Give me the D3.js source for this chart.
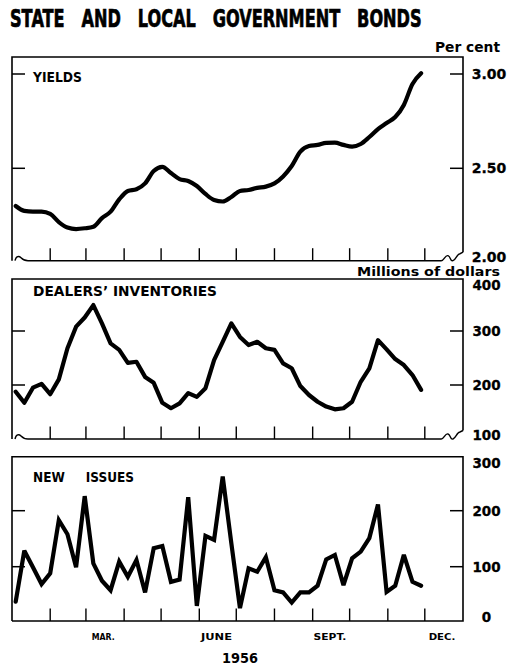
<!DOCTYPE html>
<html><head><meta charset="utf-8">
<script src="https://cdn.jsdelivr.net/npm/d3@7"></script>
<style>
html,body{margin:0;padding:0;background:#fff;}
svg{display:block;}
text{font-family:"DejaVu Sans",sans-serif;font-weight:bold;fill:#000;white-space:pre;}
</style>
</head><body><div id="chart"></div>
<script>
// ---------- data ----------
const weeks = ["1956-01-04","1956-01-11","1956-01-18","1956-01-25","1956-02-01","1956-02-08","1956-02-15","1956-02-22","1956-02-29",
  "1956-03-07","1956-03-14","1956-03-21","1956-03-28","1956-04-04","1956-04-11","1956-04-18","1956-04-25",
  "1956-05-02","1956-05-09","1956-05-16","1956-05-23","1956-05-30","1956-06-06","1956-06-13","1956-06-20","1956-06-27",
  "1956-07-04","1956-07-11","1956-07-18","1956-07-25","1956-08-01","1956-08-08","1956-08-15","1956-08-22","1956-08-29",
  "1956-09-05","1956-09-12","1956-09-19","1956-09-26","1956-10-03","1956-10-10","1956-10-17","1956-10-24","1956-10-31",
  "1956-11-07","1956-11-14","1956-11-21","1956-11-28"];
const yields = [2.30,2.274,2.27,2.27,2.258,2.215,2.186,2.178,2.182,2.19,2.236,2.27,2.335,2.38,2.389,2.42,2.486,
  2.508,2.475,2.443,2.433,2.406,2.364,2.332,2.324,2.348,2.38,2.385,2.396,2.403,2.42,2.457,2.512,2.588,2.618,
  2.624,2.635,2.636,2.624,2.615,2.629,2.666,2.708,2.74,2.772,2.836,2.947,3.004];
const inventories = [187.6,167,195,202,183,210.5,268,308,325,348,314,277,265,241,243,215,204,167,157,166,185,178,
  194,246,280,314,289,274,280,268,265,240,231,198,181.5,169,160,155,157,169,206,231,283,266,248,237,218.5,191];
const newIssues = [37.5,128.6,99,69,88,183,158,99,226,106,75,58,109,82,112,54,133,137,73,77,224,30,155,148,261,
  142,26,97,91,117,58,54,36,54,54,66,113,121,67,115,127,151,211,55,66,121,73,66];
const monthTicks = ["1956-02-01","1956-03-01","1956-04-01","1956-05-01","1956-06-01","1956-07-01","1956-08-01",
  "1956-09-01","1956-10-01","1956-11-01","1956-12-01"];
const monthLabels = ["MAR.","JUNE","SEPT.","DEC."];
const monthLabelDates = ["1956-03-15","1956-06-15","1956-09-15","1956-12-15"];
const yearLabel = "1956";
const yieldTicks = [2.5, 3.0];
const yieldLabelValues = [2.0, 2.5, 3.0];
const invTicks = [200, 300];
const invLabelValues = [100, 200, 300, 400];
const issueTicks = [100, 200];
const issueLabelValues = [0, 100, 200, 300];

// ---------- layout ----------
const W = 507, H = 665;
const parse = d3.utcParse("%Y-%m-%d");
const dates = weeks.map(parse);
const svg = d3.select("#chart").append("svg").attr("width", W).attr("height", H);
const x = d3.scaleUtc().domain([parse("1956-01-01"), parse("1957-01-01")]).range([12, 463]);
const L = 12, R = 463;

const panels = [
  {top:57, bottom:260.7, broken:true, label:"YIELDS", labelY:82, labelLen:49,
   y:d3.scaleLinear().domain([2.5,3.0]).range([168.3,74]), values:yields, curve:d3.curveMonotoneX,
   ticks:yieldTicks, labelVals:yieldLabelValues, fmt:(v)=>d3.format(".2f")(v), labelX:489, fs:14},
  {top:279, bottom:439, broken:true, label:"DEALERS\u2019 INVENTORIES", labelY:296, labelLen:184,
   y:d3.scaleLinear().domain([100,400]).range([439,277]), values:inventories, curve:d3.curveLinear,
   ticks:invTicks, labelVals:invLabelValues, fmt:d3.format("d"), labelX:486.5, fs:13.5},
  {top:456.7, bottom:621, broken:false, label:"NEW     ISSUES", labelY:482, labelLen:101,
   y:d3.scaleLinear().domain([0,300]).range([622.7,454.7]), values:newIssues, curve:d3.curveLinear,
   ticks:issueTicks, labelVals:issueLabelValues, fmt:d3.format("d"), labelX:486.5, fs:13.5}
];

// title (horizontally condensed via transform)
const title = svg.append("text").style("font-size","24px")
  .attr("stroke","#000").attr("stroke-width",0.7)
  .text("STATE   AND   LOCAL   GOVERNMENT   BONDS");
const natural = title.node().getComputedTextLength();
title.attr("transform", `translate(10,27) scale(${412/natural},1)`);

svg.append("text").attr("x",435).attr("y",51.7).style("font-size","13.5px")
  .attr("textLength",65).attr("lengthAdjust","spacingAndGlyphs").text("Per cent");
svg.append("text").attr("x",357).attr("y",275.5).style("font-size","13px")
  .attr("textLength",143).attr("lengthAdjust","spacingAndGlyphs").text("Millions of dollars");

panels.forEach((p, pi) => {
  const g = svg.append("g");
  const B = p.bottom, T = p.top;
  const frame = d3.path();
  frame.moveTo(L, B); frame.lineTo(L, T); frame.lineTo(R, T);
  frame.lineTo(R, p.broken ? B - 8.5 : B);
  if (!p.broken) frame.lineTo(L, B);
  g.append("path").attr("d", frame.toString()).attr("fill","none").attr("stroke","#000").attr("stroke-width",1.6);
  if (p.broken) {
    g.append("line").attr("x1", L+16).attr("x2", R-22).attr("y1", B).attr("y2", B)
      .attr("stroke","#000").attr("stroke-width",1.6);
    g.append("path")
      .attr("d", `M${L+3},${B} C${L+4},${B-5} ${L+7},${B-5} ${L+9},${B-3} C${L+11},${B-1} ${L+13},${B} ${L+16},${B}`)
      .attr("fill","none").attr("stroke","#000").attr("stroke-width",1.4);
    g.append("path")
      .attr("d", `M${R-22},${B} C${R-19},${B+0.5} ${R-18},${B-6} ${R-15},${B-5} C${R-12},${B-4} ${R-13},${B+1} ${R-10},${B} C${R-7},${B-1} ${R-6},${B-7} ${R-3},${B-7} L${R},${B-8.5}`)
      .attr("fill","none").attr("stroke","#000").attr("stroke-width",1.4);
  }
  // month ticks
  g.selectAll(".mt").data(monthTicks).join("line")
    .attr("x1", d=>x(parse(d))).attr("x2", d=>x(parse(d)))
    .attr("y1", B).attr("y2", B-12.5).attr("stroke","#000").attr("stroke-width",1.4);
  // value ticks both sides
  p.ticks.forEach(v => {
    const yy = p.y(v);
    g.append("line").attr("x1",L).attr("x2",L+13).attr("y1",yy).attr("y2",yy).attr("stroke","#000").attr("stroke-width",1.5);
    g.append("line").attr("x1",R-13).attr("x2",R).attr("y1",yy).attr("y2",yy).attr("stroke","#000").attr("stroke-width",1.5);
  });
  // value labels
  const dom = d3.extent(p.labelVals);
  p.labelVals.forEach(v => {
    let yy = p.y(v);
    if (v === dom[1] && pi > 0) yy += 8;
    if (v === dom[0]) yy -= (pi===1 ? 4 : 6);
    g.append("text").attr("x", p.labelX).attr("y", yy).attr("dy","0.36em")
      .attr("text-anchor","middle").style("font-size", p.fs+"px")
      .attr("stroke","#000").attr("stroke-width",0.3).text(p.fmt(v));
  });
  // series line
  const line = d3.line().x((d,i)=>x(dates[i])).y(d=>p.y(d)).curve(p.curve);
  g.append("path").attr("d", line(p.values)).attr("fill","none").attr("stroke","#000")
    .attr("stroke-width", 4.2).attr("stroke-linejoin", pi===2 ? "miter" : "round").attr("stroke-miterlimit",3)
    .attr("stroke-linecap","round");
  // panel label
  g.append("text").attr("x",33).attr("y",p.labelY).style("font-size","13.5px")
    .attr("textLength",p.labelLen).attr("lengthAdjust","spacingAndGlyphs").text(p.label);
});

// month labels
const mlen = [23, 31, 32.7, 26.7];
svg.selectAll(".ml").data(monthLabels).join("text")
  .attr("x", (d,i)=>x(parse(monthLabelDates[i]))).attr("y", 640).attr("text-anchor","middle")
  .style("font-size","9.5px").attr("textLength",(d,i)=>mlen[i]).attr("lengthAdjust","spacingAndGlyphs").text(d=>d);
svg.append("text").attr("x", x(parse("1956-07-04"))).attr("y", 663).attr("text-anchor","middle")
  .style("font-size","14px").attr("textLength",36).attr("lengthAdjust","spacingAndGlyphs").text(yearLabel);
</script></body></html>
